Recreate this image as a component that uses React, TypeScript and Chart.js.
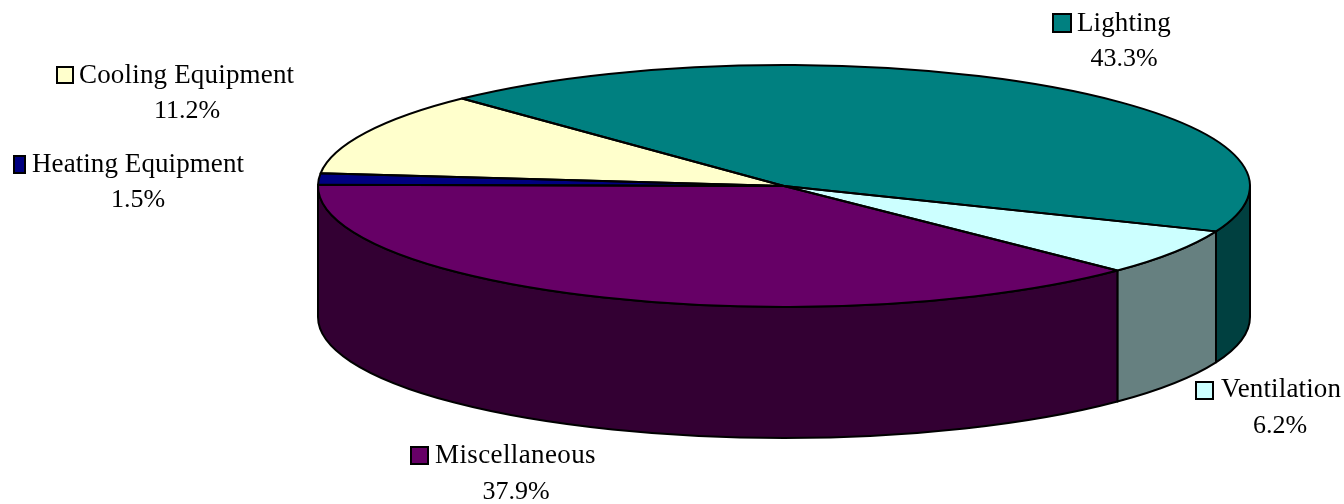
import React, { useEffect, useRef } from "react";
import { Chart, registerables } from "chart.js";

Chart.register(...registerables);

// Share of electricity use by end use, in percent.
const categories = ["Lighting", "Ventilation", "Miscellaneous", "Heating Equipment", "Cooling Equipment"];
const shares = [43.3, 6.2, 37.9, 1.5, 11.2];
const topColors = ["#008080", "#CCFFFF", "#660066", "#000080", "#FFFFCC"];
const wallColors = ["#004040", "#668080", "#330033", "#000040", "#808066"];

// Where each label block sits: swatch box, name start, name and value baselines, value centre.
const labelPlacement = [
  { box: [1053, 14, 18, 18], nameX: 1077, nameY: 31, valueX: 1124, valueY: 66, tracking: 0.1 },
  { box: [1196, 382, 17, 17], nameX: 1221, nameY: 397, valueX: 1280, valueY: 433, tracking: 0.15 },
  { box: [411, 447, 17, 17], nameX: 435, nameY: 463, valueX: 516, valueY: 499, tracking: 0.38 },
  { box: [14, 156, 11, 17], nameX: 32, nameY: 172, valueX: 138, valueY: 207, tracking: 0.08 },
  { box: [57, 67, 16, 16], nameX: 79, nameY: 83, valueX: 187, valueY: 118, tracking: 0.18 },
];

const WIDTH = 1344;
const HEIGHT = 504;
const PIE_X = 784;
const PIE_Y = 186;
const RADIUS_X = 466;
const RADIUS_Y = 121;
const DEPTH = 131;
const NAME_FONT = '27px "Liberation Serif"';
const VALUE_FONT = '26px "Liberation Serif"';

// Tilts the library's pie into an ellipse and extrudes it into a drum.
const tiltedDrum = {
  id: "tiltedDrum",
  beforeDatasetsDraw(chart: any) {
    const { ctx } = chart;
    const arcs = chart.getDatasetMeta(0).data;

    ctx.save();
    ctx.strokeStyle = "#000";
    ctx.lineWidth = 2;
    ctx.lineJoin = "round";
    arcs.forEach((arc: any, i: number) => {
      const from = Math.max(arc.startAngle, 0);
      const to = Math.min(arc.endAngle, Math.PI);
      if (to <= from) return;
      ctx.beginPath();
      ctx.ellipse(PIE_X, PIE_Y, RADIUS_X, RADIUS_Y, 0, from, to);
      ctx.ellipse(PIE_X, PIE_Y + DEPTH, RADIUS_X, RADIUS_Y, 0, to, from, true);
      ctx.closePath();
      ctx.fillStyle = wallColors[i];
      ctx.fill();
      ctx.stroke();
    });
    ctx.restore();

    const k = RADIUS_Y / RADIUS_X;
    ctx.save();
    ctx.translate(PIE_X, PIE_Y);
    ctx.scale(1, k);
    ctx.translate(-arcs[0].x, -arcs[0].y);
  },
  afterDatasetsDraw(chart: any) {
    const { ctx } = chart;
    ctx.restore();

    // Outlines are stroked untransformed so the line weight stays even.
    const arcs = chart.getDatasetMeta(0).data;
    ctx.save();
    ctx.strokeStyle = "#000";
    ctx.lineWidth = 2;
    ctx.lineJoin = "round";
    arcs.forEach((arc: any) => {
      ctx.beginPath();
      ctx.moveTo(PIE_X, PIE_Y);
      ctx.ellipse(PIE_X, PIE_Y, RADIUS_X, RADIUS_Y, 0, arc.startAngle, arc.endAngle);
      ctx.closePath();
      ctx.stroke();
    });
    ctx.restore();

    // Category names with swatches, values centred beneath.
    ctx.save();
    ctx.textBaseline = "alphabetic";
    categories.forEach((name, i) => {
      const p = labelPlacement[i];
      ctx.fillStyle = topColors[i];
      ctx.fillRect(p.box[0], p.box[1], p.box[2], p.box[3]);
      ctx.strokeStyle = "#000";
      ctx.lineWidth = 2;
      ctx.strokeRect(p.box[0], p.box[1], p.box[2], p.box[3]);

      ctx.fillStyle = "#000";
      ctx.font = NAME_FONT;
      ctx.textAlign = "left";
      ctx.letterSpacing = `${p.tracking}px`;
      ctx.fillText(name, p.nameX, p.nameY);
      ctx.font = VALUE_FONT;
      ctx.textAlign = "center";
      ctx.letterSpacing = "0px";
      ctx.fillText(`${shares[i]}%`, p.valueX, p.valueY);
    });
    ctx.restore();
  },
};

export default function App() {
  const canvasRef = useRef<HTMLCanvasElement>(null);

  useEffect(() => {
    const chart = new Chart(canvasRef.current as HTMLCanvasElement, {
      type: "pie",
      data: {
        labels: categories,
        datasets: [
          {
            data: shares,
            backgroundColor: topColors,
            borderWidth: 0,
            clip: false,
          } as any,
        ],
      },
      options: {
        responsive: false,
        animation: false,
        rotation: -43.7,
        radius: RADIUS_X,
        layout: { padding: 0 },
        plugins: {
          legend: { display: false },
          tooltip: { enabled: false },
          title: { display: false },
        },
      } as any,
      plugins: [tiltedDrum],
    });
    return () => chart.destroy();
  }, []);

  return (
    <div style={{ position: "absolute", left: 0, top: 0, width: WIDTH, height: HEIGHT, background: "#fff" }}>
      <canvas ref={canvasRef} width={WIDTH} height={HEIGHT} style={{ display: "block" }} />
    </div>
  );
}
